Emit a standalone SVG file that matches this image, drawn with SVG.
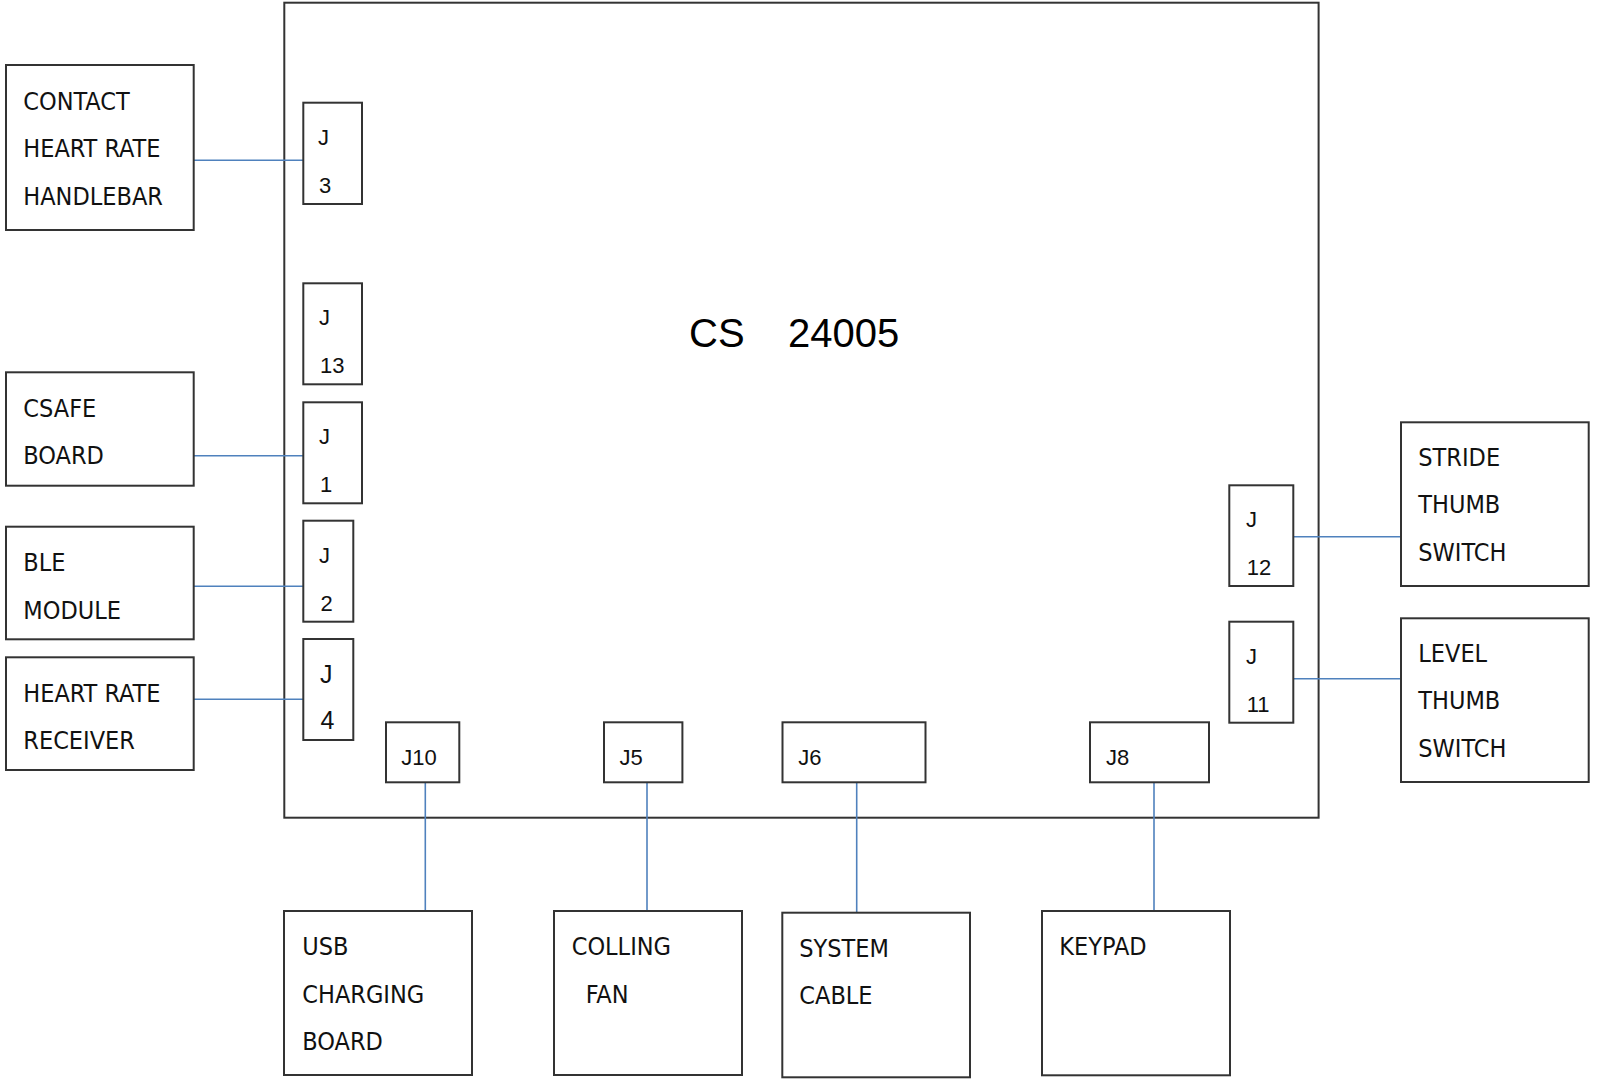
<svg xmlns="http://www.w3.org/2000/svg" width="1597" height="1081" viewBox="0 0 1597 1081">
<style>
.box{fill:#fff;stroke:#333;stroke-width:2}
.lbl{font-family:"Liberation Sans Narrow","DejaVu Sans Condensed","Liberation Sans",sans-serif;font-size:25px;fill:#111}
.j{font-family:"Liberation Sans",Arial,sans-serif;font-size:22px;fill:#111}
.conn{stroke:#4f81bd;stroke-width:1.6;fill:none}
.title{font-family:"Liberation Sans",Arial,sans-serif;font-size:40px;fill:#000}
</style>
<rect width="1597" height="1081" fill="#fff"/>
<g id="board">
<rect class="box" x="284.3" y="2.7" width="1034.3" height="815"/>
<text class="title" y="346.7"><tspan x="689">CS</tspan><tspan x="788">24005</tspan></text>
</g>
<g id="connectors">
<line class="conn" x1="193.7" y1="160.3" x2="303.3" y2="160.3"/>
<line class="conn" x1="193.7" y1="455.7" x2="303.3" y2="455.7"/>
<line class="conn" x1="193.7" y1="586.3" x2="303.3" y2="586.3"/>
<line class="conn" x1="193.7" y1="699.3" x2="303.3" y2="699.3"/>
<line class="conn" x1="1293" y1="536.7" x2="1401" y2="536.7"/>
<line class="conn" x1="1293" y1="678.7" x2="1401" y2="678.7"/>
<line class="conn" x1="425.3" y1="782.3" x2="425.3" y2="911"/>
<line class="conn" x1="647" y1="782.3" x2="647" y2="911"/>
<line class="conn" x1="856.7" y1="782.3" x2="856.7" y2="912.7"/>
<line class="conn" x1="1154" y1="782.3" x2="1154" y2="911"/>
</g>
<g id="J3"><rect class="box" x="303.3" y="102.7" width="58.7" height="101.3"/><text class="j" x="318" y="145">J</text><text class="j" x="319" y="192.7">3</text></g>
<g id="J13"><rect class="box" x="303.3" y="283.3" width="58.7" height="101"/><text class="j" x="319" y="325">J</text><text class="j" x="320" y="372.7">13</text></g>
<g id="J1"><rect class="box" x="303.3" y="402.3" width="58.7" height="101"/><text class="j" x="319" y="444">J</text><text class="j" x="320" y="491.7">1</text></g>
<g id="J2"><rect class="box" x="303.3" y="520.7" width="50" height="101"/><text class="j" x="319" y="563.3">J</text><text class="j" x="320.5" y="610.7">2</text></g>
<g id="J4"><rect class="box" x="303.3" y="639" width="50" height="101"/><text class="j" x="320" y="682.7" style="font-size:25px">J</text><text class="j" x="320.5" y="729.3" style="font-size:25px">4</text></g>
<g id="J12"><rect class="box" x="1229.3" y="485.3" width="64" height="100.7"/><text class="j" x="1246" y="527.3">J</text><text class="j" x="1246.7" y="575">12</text></g>
<g id="J11"><rect class="box" x="1229.3" y="621.7" width="64" height="101"/><text class="j" x="1246" y="664">J</text><text class="j" x="1246.7" y="711.7">11</text></g>
<g id="J10"><rect class="box" x="386" y="722.3" width="73.3" height="60"/><text class="j" x="401.3" y="765">J10</text></g>
<g id="J5"><rect class="box" x="604" y="722.3" width="78.4" height="60"/><text class="j" x="619.5" y="765">J5</text></g>
<g id="J6"><rect class="box" x="782.5" y="722.3" width="143" height="60"/><text class="j" x="798.2" y="765">J6</text></g>
<g id="J8"><rect class="box" x="1090" y="722.3" width="119" height="60"/><text class="j" x="1106" y="765">J8</text></g>
<g id="contact-hr"><rect class="box" x="6" y="65" width="187.7" height="165"/><text class="lbl" x="23.3" y="110">CONTACT</text><text class="lbl" x="23.3" y="157">HEART RATE</text><text class="lbl" x="23.3" y="205">HANDLEBAR</text></g>
<g id="csafe"><rect class="box" x="6" y="372.3" width="187.7" height="113.4"/><text class="lbl" x="23.3" y="417.3">CSAFE</text><text class="lbl" x="23.3" y="464.3">BOARD</text></g>
<g id="ble"><rect class="box" x="6" y="526.7" width="187.7" height="112.6"/><text class="lbl" x="23.3" y="571">BLE</text><text class="lbl" x="23.3" y="618.7">MODULE</text></g>
<g id="hr-receiver"><rect class="box" x="6" y="657.3" width="187.7" height="112.7"/><text class="lbl" x="23.3" y="701.7">HEART RATE</text><text class="lbl" x="23.3" y="749.3">RECEIVER</text></g>
<g id="stride"><rect class="box" x="1401" y="422.3" width="187.7" height="163.7"/><text class="lbl" x="1418.3" y="466">STRIDE</text><text class="lbl" x="1418.3" y="513.3">THUMB</text><text class="lbl" x="1418.3" y="561">SWITCH</text></g>
<g id="level"><rect class="box" x="1401" y="618.3" width="187.7" height="163.7"/><text class="lbl" x="1418.3" y="661.7">LEVEL</text><text class="lbl" x="1418.3" y="709">THUMB</text><text class="lbl" x="1418.3" y="756.7">SWITCH</text></g>
<g id="usb"><rect class="box" x="284" y="911" width="188" height="164"/><text class="lbl" x="302.3" y="955">USB</text><text class="lbl" x="302.3" y="1002.7">CHARGING</text><text class="lbl" x="302.3" y="1050">BOARD</text></g>
<g id="fan"><rect class="box" x="554" y="911" width="188" height="164"/><text class="lbl" x="571.7" y="955">COLLING</text><text class="lbl" x="585.7" y="1002.7">FAN</text></g>
<g id="system-cable"><rect class="box" x="782.3" y="912.7" width="187.7" height="164.6"/><text class="lbl" x="799.3" y="957.3">SYSTEM</text><text class="lbl" x="799.3" y="1004.3">CABLE</text></g>
<g id="keypad"><rect class="box" x="1042" y="911" width="188" height="164.3"/><text class="lbl" x="1059.3" y="955.3">KEYPAD</text></g>
</svg>
